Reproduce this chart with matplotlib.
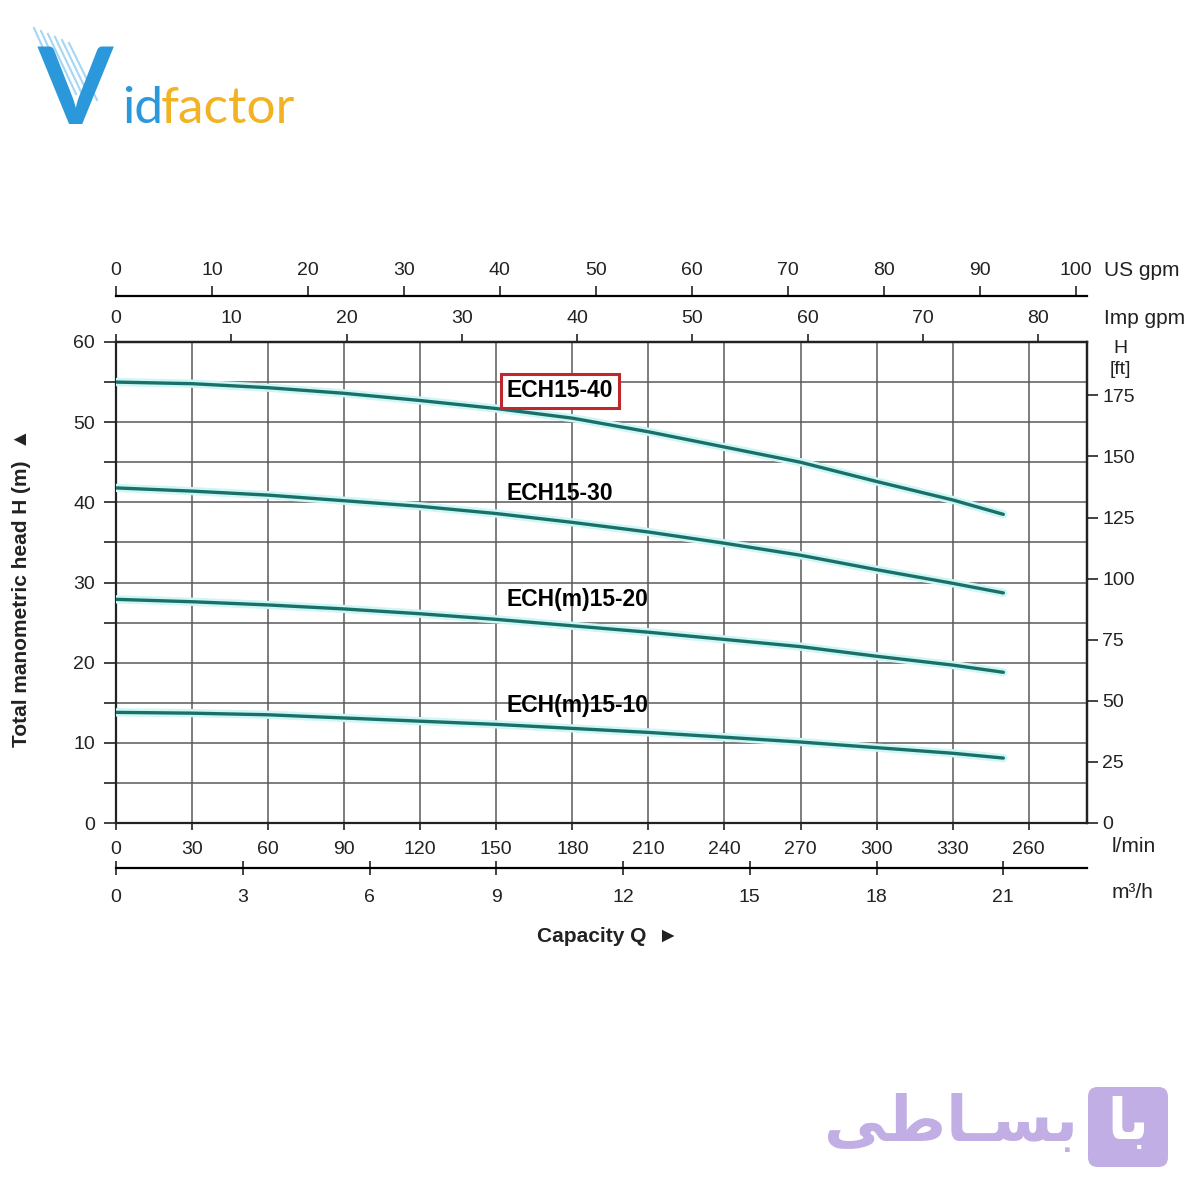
import matplotlib
matplotlib.use("Agg")
import matplotlib.pyplot as plt
from matplotlib.patches import FancyBboxPatch
from matplotlib.lines import Line2D

plt.rcParams['font.family'] = ['Liberation Sans', 'DejaVu Sans']

# --- data (l/min vs head in m) ---
caudal = [0, 30, 60, 90, 120, 150, 180, 210, 240, 270, 300, 330, 350]
h_ech15_40 = [55.0, 54.8, 54.3, 53.6, 52.7, 51.7, 50.5, 48.8, 46.9, 45.0, 42.6, 40.3, 38.5]
h_ech15_30 = [41.8, 41.4, 40.9, 40.2, 39.5, 38.6, 37.5, 36.3, 34.9, 33.4, 31.6, 29.9, 28.7]
h_ech15_20 = [27.9, 27.6, 27.2, 26.7, 26.1, 25.4, 24.6, 23.8, 22.9, 22.0, 20.8, 19.7, 18.8]
h_ech15_10 = [13.8, 13.7, 13.5, 13.1, 12.7, 12.3, 11.8, 11.3, 10.7, 10.1, 9.4, 8.7, 8.1]

curvas = [
    ("ECH15-40", h_ech15_40, 53.9),
    ("ECH15-30", h_ech15_30, 41.1),
    ("ECH(m)15-20", h_ech15_20, 27.9),
    ("ECH(m)15-10", h_ech15_10, 14.7),
]

lmin_ticks = [0, 30, 60, 90, 120, 150, 180, 210, 240, 270, 300, 330, 360]
lmin_labels = ["0", "30", "60", "90", "120", "150", "180", "210", "240", "270", "300", "330", "260"]
m3h_ticks = [0, 3, 6, 9, 12, 15, 18, 21]
usgpm_ticks = [0, 10, 20, 30, 40, 50, 60, 70, 80, 90, 100]
impgpm_ticks = [0, 10, 20, 30, 40, 50, 60, 70, 80]
ft_ticks = [0, 25, 50, 75, 100, 125, 150, 175]

W = H = 1200.0
fig = plt.figure(figsize=(12, 12), dpi=100)
fig.patch.set_facecolor("white")

x0, x1, y0, y1 = 116, 1087, 342, 823
ax = fig.add_axes([x0 / W, 1 - y1 / H, (x1 - x0) / W, (y1 - y0) / H])
ax.set_xlim(0, 383)
ax.set_ylim(0, 60)

# --- curvas ---
for nombre, valores, ylab in curvas:
    ax.plot(caudal, valores, color="#cdf6f5", lw=6, solid_capstyle="round", zorder=3)
    ax.plot(caudal, valores, color="#1b6f69", lw=2.4, solid_capstyle="round", zorder=4)
    if nombre == "ECH15-40":
        ax.text(154, ylab, nombre, fontsize=16.5, fontweight="bold", va="center", ha="left", zorder=5,
                bbox=dict(boxstyle="square,pad=0.25", fc="white", ec="#c0272d", lw=2.2))
    else:
        ax.text(154, ylab, nombre, fontsize=16.5, fontweight="bold", va="center", ha="left", zorder=5)

# --- ejes y grilla ---
ax.set_xticks(lmin_ticks)
ax.set_xticklabels(lmin_labels)
ax.set_yticks(range(0, 61, 10))
ax.set_yticks(range(5, 60, 10), minor=True)
ax.grid(which="both", color="#5a5a5a", lw=1.1, zorder=1)
ax.tick_params(axis="x", direction="out", length=5, width=1.2, pad=8, labelsize=14, colors="#222")
ax.tick_params(axis="y", which="both", direction="out", length=9, width=1.2, pad=6, labelsize=14, colors="#222")
for s in ax.spines.values():
    s.set_linewidth(1.6)
    s.set_color("#222")

sec_ft = ax.secondary_yaxis("right", functions=(lambda m: m * 3.2808, lambda f: f / 3.2808))
sec_ft.set_yticks(ft_ticks)
sec_ft.tick_params(direction="out", length=8, width=1.2, pad=3, labelsize=14, colors="#222")
sec_ft.spines["right"].set_linewidth(1.6)

sec_imp = ax.secondary_xaxis("top", functions=(lambda q: q / 4.546, lambda g: g * 4.546))
sec_imp.set_xticks(impgpm_ticks)
sec_imp.tick_params(direction="out", length=6, width=1.2, pad=5, labelsize=14, colors="#222")
sec_imp.spines["top"].set_linewidth(1.6)

sec_us = ax.secondary_xaxis(1 + 46 / 481, functions=(lambda q: q / 3.785, lambda g: g * 3.785))
sec_us.set_xticks(usgpm_ticks)
sec_us.tick_params(direction="out", length=7, width=1.2, pad=5, labelsize=14, colors="#222")
sec_us.spines["top"].set_linewidth(1.6)

sec_m3 = ax.secondary_xaxis(-45 / 481, functions=(lambda q: q * 0.06, lambda m: m / 0.06))
sec_m3.set_xticks(m3h_ticks)
sec_m3.tick_params(direction="inout", length=10, width=1.2, pad=10, labelsize=14, colors="#222")
sec_m3.spines["bottom"].set_linewidth(1.6)

# --- textos de unidades ---
def ftxt(x, y, s, **kw):
    fig.text(x / W, 1 - y / H, s, **kw)

ftxt(1104, 271, "US gpm", fontsize=15, va="center", ha="left", color="#222")
ftxt(1104, 319, "Imp gpm", fontsize=15, va="center", ha="left", color="#222")
ftxt(1120, 349, "H", fontsize=14, va="center", ha="center", color="#222")
ftxt(1120, 370, "[ft]", fontsize=14, va="center", ha="center", color="#222")
ftxt(1112, 847, "l/min", fontsize=15, va="center", ha="left", color="#222")
ftxt(1112, 893, "m³/h", fontsize=15, va="center", ha="left", color="#222")
ftxt(608, 937, "Capacity Q  ►", fontsize=15, fontweight="bold", va="center", ha="center", color="#222")
ftxt(22, 588, "Total manometric head H (m)  ▲", fontsize=15, fontweight="bold",
     rotation=90, va="center", ha="center", color="#222")

# --- logo Vidfactor ---
for i in range(6):
    fig.add_artist(Line2D([(34 + i * 7) / W, (62 + i * 7) / W], [1 - (28 + i * 3) / H, 1 - (90 + i * 2) / H],
                          color="#8fcdf0", lw=1.5, alpha=0.8))
ftxt(38, 124, "V", fontsize=78, fontweight="bold", family="Lato", color="#2a98da", va="baseline", ha="left")
ftxt(122, 123, "id", fontsize=37, family="Lato", color="#2a98da", va="baseline", ha="left")
ftxt(161, 123, "factor", fontsize=37, family="Lato", color="#f2b322", va="baseline", ha="left")

# --- logo basati ---
caja = FancyBboxPatch((1088 / W, 1 - 1167 / H), 80 / W, 80 / H,
                      boxstyle="round,pad=0,rounding_size=0.008", transform=fig.transFigure,
                      fc="#c1aee4", ec="none")
fig.add_artist(caja)
ftxt(1128, 1124, "\uFE8E\uFE91", fontsize=40, fontweight="bold", family="DejaVu Sans",
     color="white", va="center", ha="center")
ftxt(1078, 1124, "\uFEF0\uFEC3\uFE8E\u0640\uFEB4\uFE91", fontsize=45, fontweight="bold",
     family="DejaVu Sans", color="#c1aee4", va="center", ha="right")

fig.savefig("out.png", dpi=100, facecolor="white")
